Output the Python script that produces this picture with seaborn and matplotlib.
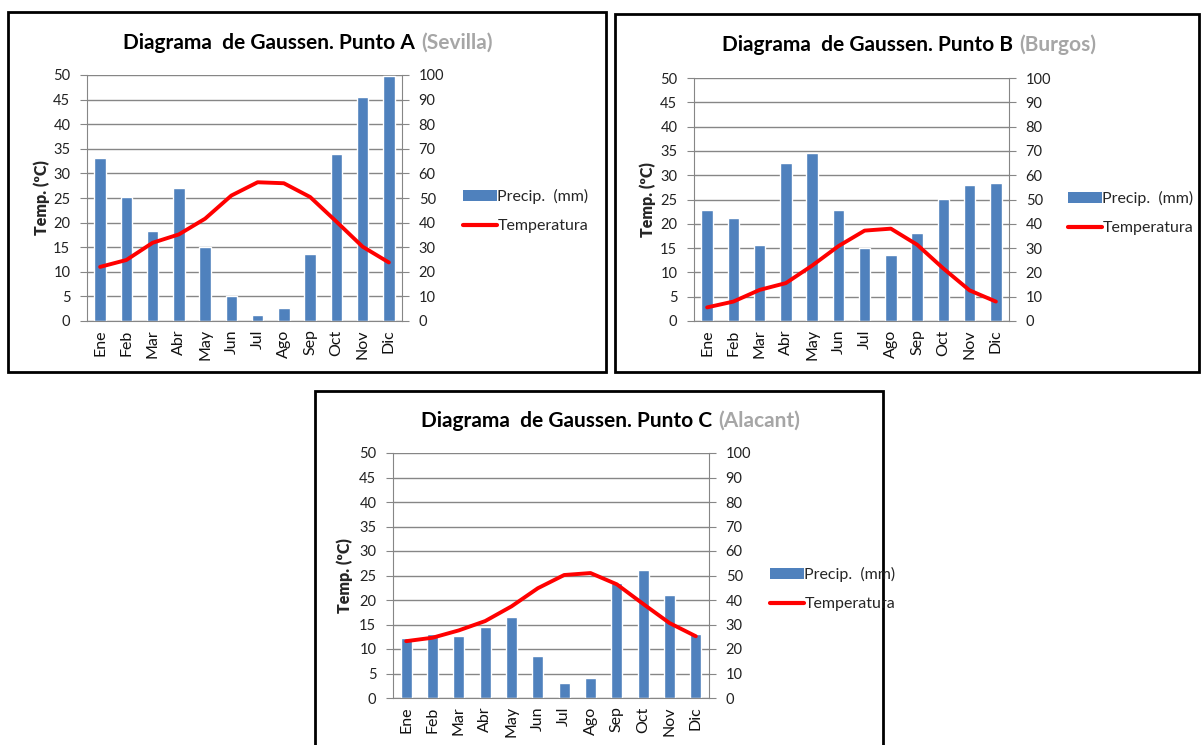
"""
Diagramas de Gaussen (ombrotérmicos) para tres puntos: Sevilla, Burgos y Alacant.
Barras = precipitación (mm, eje derecho), línea = temperatura (ºC, eje izquierdo).
"""

import numpy as np
import pandas as pd
import matplotlib
matplotlib.use('Agg')
import matplotlib.pyplot as plt
import seaborn as sns
from matplotlib.patches import Rectangle, Patch
from matplotlib.lines import Line2D

MONTHS = ['Ene', 'Feb', 'Mar', 'Abr', 'May', 'Jun',
          'Jul', 'Ago', 'Sep', 'Oct', 'Nov', 'Dic']

# Punto A (Sevilla)
PRECIP_A = [66.4, 50.4, 36.6, 54.2, 30.2, 10.2, 2.4, 5.2, 27.2, 68.0, 91.2, 99.4]
TEMP_A = [11.0, 12.4, 15.9, 17.6, 20.8, 25.5, 28.2, 28.0, 25.2, 20.2, 15.1, 11.9]

# Punto B (Burgos)
PRECIP_B = [45.8, 42.4, 31.4, 65.2, 69.2, 45.8, 30.0, 27.2, 36.2, 50.2, 56.0, 56.8]
TEMP_B = [2.8, 4.0, 6.4, 7.8, 11.4, 15.4, 18.6, 19.0, 15.7, 10.8, 6.3, 4.0]

# Punto C (Alacant)
PRECIP_C = [24.6, 26.2, 25.4, 29.0, 33.2, 17.2, 6.2, 8.2, 47.0, 52.4, 42.0, 26.2]
TEMP_C = [11.6, 12.3, 13.8, 15.7, 18.7, 22.4, 25.1, 25.5, 23.2, 19.2, 15.3, 12.6]

W, H = 1201, 745
BAR_COLOR = '#4F81BD'
LINE_COLOR = '#FF0000'
GRID_COLOR = '#868686'


def px_rect(left, top, right, bottom):
    """Pixel box -> figure fraction [x, y, w, h]."""
    return [left / W, 1 - bottom / H, (right - left) / W, (bottom - top) / H]


def draw_panel(fig, frame, plot_box, title, place, split_x, title_y,
               ylabel_x, precip, temp, legend_xy):
    """Draw one Gaussen diagram inside a black frame."""
    # black frame around the chart
    fl, ft, fr, fb = frame
    fig.patches.append(Rectangle((fl / W, 1 - fb / H), (fr - fl) / W, (fb - ft) / H,
                                 transform=fig.transFigure, fill=False,
                                 edgecolor='black', linewidth=2))

    ax = fig.add_axes(px_rect(*plot_box))
    ax2 = ax.twinx()

    df = pd.DataFrame({'mes': MONTHS, 'precip': precip, 'temp': temp})

    sns.barplot(data=df, x='mes', y='precip', ax=ax2, color=BAR_COLOR,
                saturation=1, width=0.43, order=MONTHS)
    sns.lineplot(x=np.arange(len(MONTHS)), y=df['temp'], ax=ax,
                 color=LINE_COLOR, linewidth=2.8)

    # line above the bars
    ax.set_zorder(ax2.get_zorder() + 1)
    ax.patch.set_visible(False)

    ax.set_xlim(-0.5, len(MONTHS) - 0.5)
    ax.set_ylim(0, 50)
    ax.set_yticks(np.arange(0, 51, 5))
    ax2.set_ylim(0, 100)
    ax2.set_yticks(np.arange(0, 101, 10))

    ax2.yaxis.grid(True, color=GRID_COLOR, linewidth=1)
    ax2.set_axisbelow(True)
    ax.grid(False)

    ax.set_xticks(np.arange(len(MONTHS)))
    ax.set_xticklabels(MONTHS, rotation=90)
    ax.set_xlabel('')
    ax.set_ylabel('')
    ax2.set_ylabel('')
    ax2.set_xlabel('')

    for a in (ax, ax2):
        for s in a.spines.values():
            s.set_visible(False)
    ax.spines['left'].set_visible(True)
    ax.spines['left'].set_color(GRID_COLOR)
    ax.spines['bottom'].set_visible(True)
    ax.spines['bottom'].set_color(GRID_COLOR)
    ax2.spines['right'].set_visible(True)
    ax2.spines['right'].set_color(GRID_COLOR)

    ax.tick_params(axis='y', direction='out', length=5, color=GRID_COLOR,
                   labelsize=10.5, pad=7, labelcolor='#222222')
    ax.tick_params(axis='x', length=0, labelsize=11.5, pad=6, labelcolor='#111111')
    ax2.tick_params(axis='y', direction='out', length=5, color=GRID_COLOR,
                    labelsize=10.5, pad=7, labelcolor='#222222')

    # title: black text + grey place name
    fig.text(split_x / W, 1 - title_y / H, title, ha='right', va='center',
             fontsize=15, fontweight='bold', color='black')
    fig.text((split_x + 6) / W, 1 - title_y / H, place, ha='left', va='center',
             fontsize=15, fontweight='bold', color='#A6A6A6')

    left, top, right, bottom = plot_box
    fig.text(ylabel_x / W, 1 - (top + bottom) / 2 / H, 'Temp. (ºC)', rotation=90,
             ha='center', va='center', fontsize=11.5, fontweight='heavy')

    handles = [Patch(facecolor=BAR_COLOR, edgecolor='none'),
               Line2D([], [], color=LINE_COLOR, linewidth=3)]
    fig.legend(handles, ['Precip.  (mm)', 'Temperatura'],
               loc='upper left', bbox_to_anchor=(legend_xy[0] / W, 1 - legend_xy[1] / H),
               frameon=False, fontsize=11.5, handlelength=2.1, handleheight=0.6,
               handletextpad=0.05, labelspacing=0.95, borderpad=0, borderaxespad=0)


def main():
    sns.set_style('white')
    plt.rcParams['font.family'] = ['Lato', 'DejaVu Sans']

    fig = plt.figure(figsize=(W / 100, H / 100), dpi=100)

    draw_panel(fig, (8, 12, 606, 372), (87, 75, 402, 321),
               'Diagrama  de Gaussen. Punto A', '(Sevilla)', 415, 43, 42,
               PRECIP_A, TEMP_A, (463, 189))
    draw_panel(fig, (615, 14, 1199, 372), (694, 78, 1009, 321),
               'Diagrama  de Gaussen. Punto B', '(Burgos)', 1013, 45, 648,
               PRECIP_B, TEMP_B, (1068, 191))
    draw_panel(fig, (315, 391, 883, 760), (393, 453, 709, 698),
               'Diagrama  de Gaussen. Punto C', '(Alacant)', 712, 421, 345,
               PRECIP_C, TEMP_C, (770, 567))

    fig.savefig('out.png', dpi=100)


if __name__ == "__main__":
    main()
